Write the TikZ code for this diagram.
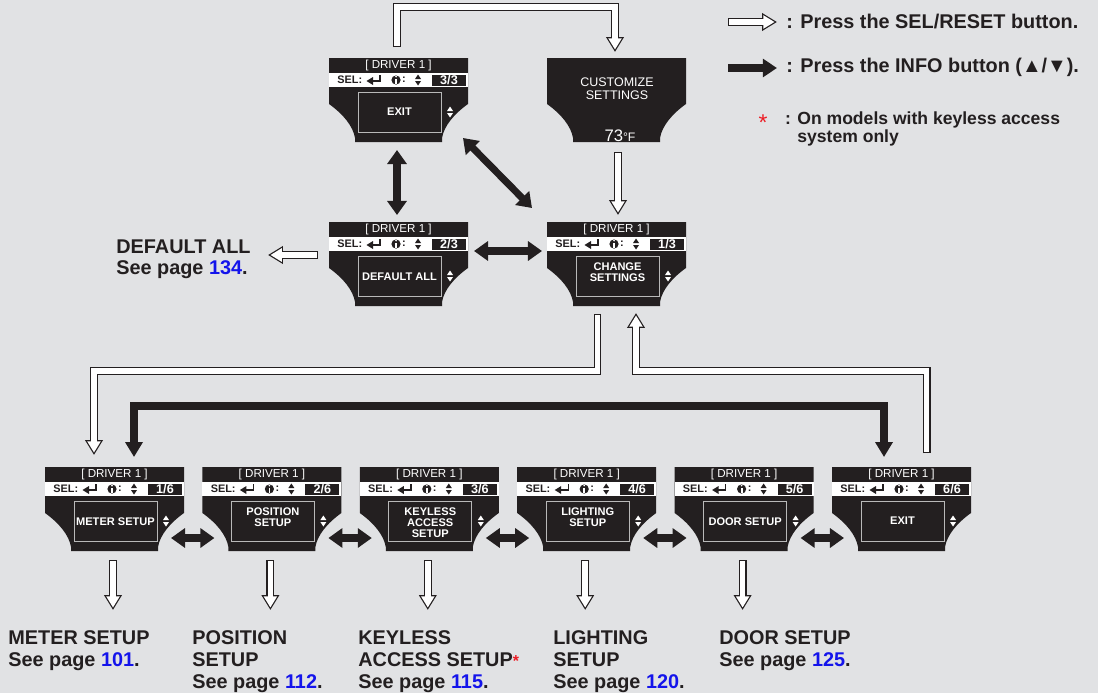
\documentclass[tikz,border=0pt]{standalone}
\usepackage{fontspec}
\setmainfont{Liberation Sans}
\usetikzlibrary{arrows.meta,calc}

\definecolor{nenxam}{RGB}{225,226,228}
\definecolor{mauden}{RGB}{35,31,32}
\definecolor{xanhtrang}{RGB}{20,20,235}
\definecolor{saodo}{RGB}{237,28,36}

% Viền màn hình (toạ độ tính bằng pixel, gốc ở góc trên trái)
\newcommand\scroutline{(0,0) -- (139,0) -- (139,46) .. controls (125,56) and (115,68) .. (113,80) -- (113,84) -- (26,84) -- (26,80) .. controls (24,68) and (14,56) .. (0,46) -- cycle}

% Ký hiệu lên/xuống
\newcommand\muitenlen[3]{%
  \fill[#3] (#1-3,#2-1) -- (#1+3,#2-1) -- (#1,#2-5.5) -- cycle;
  \fill[#3] (#1-3,#2+1) -- (#1+3,#2+1) -- (#1,#2+5.5) -- cycle;}

% Một màn hình DRIVER 1: #1 tên, #2 góc trên trái, #3 số thứ tự, #4 tung độ chữ, #5 chữ
\newcommand\manhinh[5]{%
  \begin{scope}[shift={#2}]
    \fill[mauden] \scroutline;
    \node[scrhead] at (69.5,7.5) {[ DRIVER 1 ]};
    \fill[white] (0,14.5) rectangle (139,29);
    \node[scrsel, anchor=west] at (8,22) {SEL:};
    \draw[mauden, line width=0.8pt] (51,17) |- (43,23);
    \fill[mauden] (37.5,23) -- (44,19) -- (44,27) -- cycle;
    \fill[mauden] (67,22) circle (4.6);
    \fill[white] (66.1,20.5) rectangle (67.9,25.8);
    \fill[white] (67,18.6) circle (0.9);
    \node[scrsel] at (75,22) {:};
    \muitenlen{89}{22}{mauden}
    \fill[mauden] (103,16.5) rectangle (137,27.5);
    \node[scrnum] at (120,22) {#3};
    \draw[khung] (29,34) rectangle (112,74);
    \node[scrtext] at (70.5,#4) {#5};
    \muitenlen{121}{54}{white}
    \node[scrarea] (#1) at (69.5,42) {};
  \end{scope}}

\newcommand\trang[1]{\textcolor{xanhtrang}{#1}}

\begin{document}
\begin{tikzpicture}[x=0.02cm, y=-0.02cm,
    scrhead/.style={text=white, inner sep=0, font=\fontsize{6.6}{7}\selectfont},
    scrsel/.style={text=mauden, inner sep=0, font=\fontsize{6.2}{7}\bfseries},
    scrnum/.style={text=white, inner sep=0, font=\fontsize{7.2}{7.5}\bfseries},
    scrtext/.style={text=white, inner sep=0, align=center, font=\fontsize{6.3}{6.2}\bfseries},
    khung/.style={draw=gray!55, line width=0.35pt},
    scrarea/.style={minimum width=2.78cm, minimum height=1.68cm, inner sep=0, outer sep=0},
    hollow/.style={white, line width=3.2pt, shorten <=0.68pt, shorten >=1.38pt,
      -{Triangle[length=6.44pt,width=7.3pt]},
      preaction={draw=mauden, line width=4.54pt, shorten <=0pt, shorten >=0pt,
        -{Triangle[length=8.5pt,width=9.64pt]}}},
    infoarr/.style={draw=mauden, line width=4.7pt,
      {Triangle[length=8.5pt,width=9.6pt]}-{Triangle[length=8.5pt,width=9.6pt]}},
    swaparr/.style={draw=mauden, line width=4pt,
      {Triangle[length=8pt,width=10.8pt]}-{Triangle[length=8pt,width=10.8pt]}},
    lbl/.style={anchor=north west, align=left, inner sep=0, text=mauden,
      font=\fontsize{11.3}{12.47}\bfseries},
    legtext/.style={anchor=west, inner sep=0, text=mauden, font=\fontsize{11.3}{12.5}\bfseries}]

    % ==================== NỀN ====================
    \useasboundingbox (0,0) rectangle (1098,693);
    \fill[nenxam] (0,0) rectangle (1098,693);

    % ==================== MÀN HÌNH PHÍA TRÊN ====================
    \manhinh{s33}{(329,58)}{3/3}{54}{EXIT}
    \manhinh{s23}{(329,222)}{2/3}{54.5}{DEFAULT ALL}
    \manhinh{s13}{(547,222)}{1/3}{50}{CHANGE\\SETTINGS}

    % Màn hình CUSTOMIZE SETTINGS
    \begin{scope}[shift={(547,58)}]
        \fill[mauden] \scroutline;
        \node[scrtext, font=\fontsize{7.1}{7.5}\selectfont] at (70,30.5) {CUSTOMIZE\\SETTINGS};
        \node[scrtext, font=\selectfont] at (73,77.5) {\fontsize{9.5}{9}\selectfont 73\fontsize{7}{6}\selectfont °F};
        \node[scrarea] (cust) at (69.5,42) {};
    \end{scope}

    % ==================== MÀN HÌNH PHÍA DƯỚI ====================
    \manhinh{m1}{(45,467)}{1/6}{55}{METER SETUP}
    \manhinh{m2}{(202.4,467)}{2/6}{50}{POSITION\\SETUP}
    \manhinh{m3}{(359.8,467)}{3/6}{55.3}{KEYLESS\\ACCESS\\SETUP}
    \manhinh{m4}{(517.2,467)}{4/6}{50}{LIGHTING\\SETUP}
    \manhinh{m5}{(674.6,467)}{5/6}{55}{DOOR SETUP}
    \manhinh{m6}{(832,467)}{6/6}{54}{EXIT}

    % ==================== MŨI TÊN ====================
    % Vòng SEL/RESET phía trên
    \draw[hollow] ($(s33.north)+(-1.5,-11)$) -- ++(0,-40) -| ($(cust.north)+(-1.5,-6)$);
    \draw[hollow] ($(cust.south)+(1.5,10)$) -- ($(s13.north)+(1.5,-7)$);
    \draw[hollow] ($(s23.west)+(-11,-9)$) -- ($(s23.west)+(-61,-9)$);

    % Nút INFO giữa ba màn hình
    \draw[swaparr] ($(s33.south)+(-1.5,8)$) -- ($(s23.north)+(-1.5,-7)$);
    \draw[swaparr] ($(s33.south east)+(-5,-4)$) -- ($(s13.north west)+(-15,-14)$);
    \draw[swaparr] ($(s23.east)+(6,-13)$) -- ($(s13.west)+(-5,-13)$);

    % Vào và ra danh sách thiết lập
    \draw[hollow] ($(s13.south)+(-19,8)$) -- ++(0,57) -| ($(m1.north)+(-20.5,-12)$);
    \draw[hollow] ($(m6.north)+(25,-14)$) -- ++(0,-82) -| ($(s13.south)+(19.5,7)$);
    \draw[infoarr] ($(m1.north)+(19.5,-10)$) -- ++(0,-51) -| ($(m6.north)+(-17.5,-10)$);

    % Mũi tên đôi giữa các màn hình dưới
    \foreach \i/\j in {1/2,2/3,3/4,4/5,5/6}
        \draw[swaparr] ($(m\i.east)+(-13,29)$) -- ($(m\j.west)+(12,29)$);

    % Mũi tên xuống các trang
    \foreach \i in {1,...,5}
        \draw[hollow] ($(m\i.south)+(-1.5,9)$) -- ++(0,50);

    % ==================== NHÃN ====================
    \node[lbl] (dflt) at (116,239) {DEFAULT ALL\\See page \trang{134}.};
    \node[lbl] (lmeter) at (8,630) {METER SETUP\\See page \trang{101}.};
    \node[lbl] (lpos) at (192,630) {POSITION\\SETUP\\See page \trang{112}.};
    \node[lbl] (lkey) at (358,630) {KEYLESS\\ACCESS SETUP\textcolor{saodo}{\fontsize{9}{9}\selectfont *}\\See page \trang{115}.};
    \node[lbl] (llight) at (553,630) {LIGHTING\\SETUP\\See page \trang{120}.};
    \node[lbl] (ldoor) at (719,630) {DOOR SETUP\\See page \trang{125}.};

    % ==================== CHÚ THÍCH ====================
    \node[legtext] (legsel) at (786,22) {: Press the SEL/RESET button.};
    \draw[hollow] ($(legsel.west)+(-58,0)$) -- ($(legsel.west)+(-9,0)$);
    \node[legtext] (leginfo) at (786,67) {: Press the INFO button (▲/▼).};
    \draw[infoarr, -{Triangle[length=8pt,width=10pt]}] ($(leginfo.west)+(-58,1)$) -- ($(leginfo.west)+(-9,1)$);
    \node[text=saodo, inner sep=0, font=\fontsize{13}{13}\selectfont] (sao) at (763,123) {*};
    \node[anchor=north west, align=left, inner sep=0, text=mauden,
          font=\fontsize{10}{9.9}\bfseries] (legnote) at (797,111.6)
          {\llap{: }On models with keyless access\\system only};
\end{tikzpicture}
\end{document}
